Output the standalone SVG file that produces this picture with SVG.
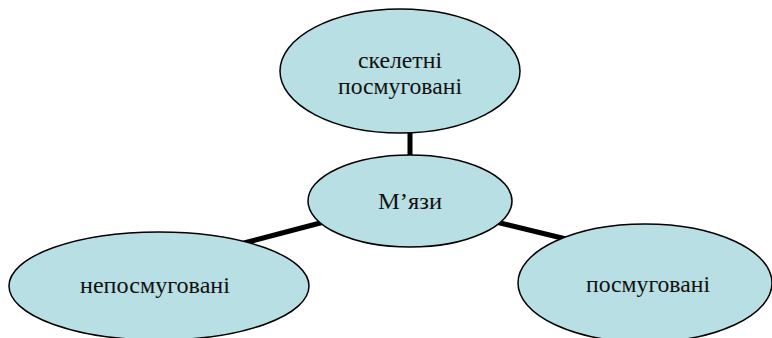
<svg xmlns="http://www.w3.org/2000/svg" width="772" height="338" viewBox="0 0 772 338">
  <style>
    .node ellipse { fill: #b8dfe3; stroke: #000; stroke-width: 1.5; }
    .node text { font-family: "Liberation Serif", "DejaVu Serif", serif; font-size: 23px; fill: #111; text-anchor: middle; }
    .links line { stroke: #000; stroke-width: 5; }
  </style>
  <rect width="772" height="338" fill="#fff"/>
  <!-- connectors from the centre node to the three outer nodes -->
  <g class="links">
    <line x1="410" y1="130" x2="410" y2="158"/>
    <line x1="244" y1="243" x2="324" y2="222"/>
    <line x1="496" y1="222" x2="566" y2="239"/>
  </g>
  <g id="top" class="node">
    <ellipse cx="400" cy="71" rx="120" ry="62"/>
    <text x="400" y="68" textLength="84" lengthAdjust="spacingAndGlyphs">скелетні</text>
    <text x="400" y="94" textLength="124" lengthAdjust="spacingAndGlyphs">посмуговані</text>
  </g>
  <g id="center" class="node">
    <ellipse cx="410" cy="201" rx="102" ry="46"/>
    <text x="410" y="209" textLength="64" lengthAdjust="spacingAndGlyphs">М’язи</text>
  </g>
  <g id="left" class="node">
    <ellipse cx="159" cy="286" rx="150" ry="54"/>
    <text x="155" y="293" textLength="150" lengthAdjust="spacingAndGlyphs">непосмуговані</text>
  </g>
  <g id="right" class="node">
    <ellipse cx="645" cy="283" rx="127" ry="59"/>
    <text x="648" y="292" textLength="124" lengthAdjust="spacingAndGlyphs">посмуговані</text>
  </g>
</svg>
